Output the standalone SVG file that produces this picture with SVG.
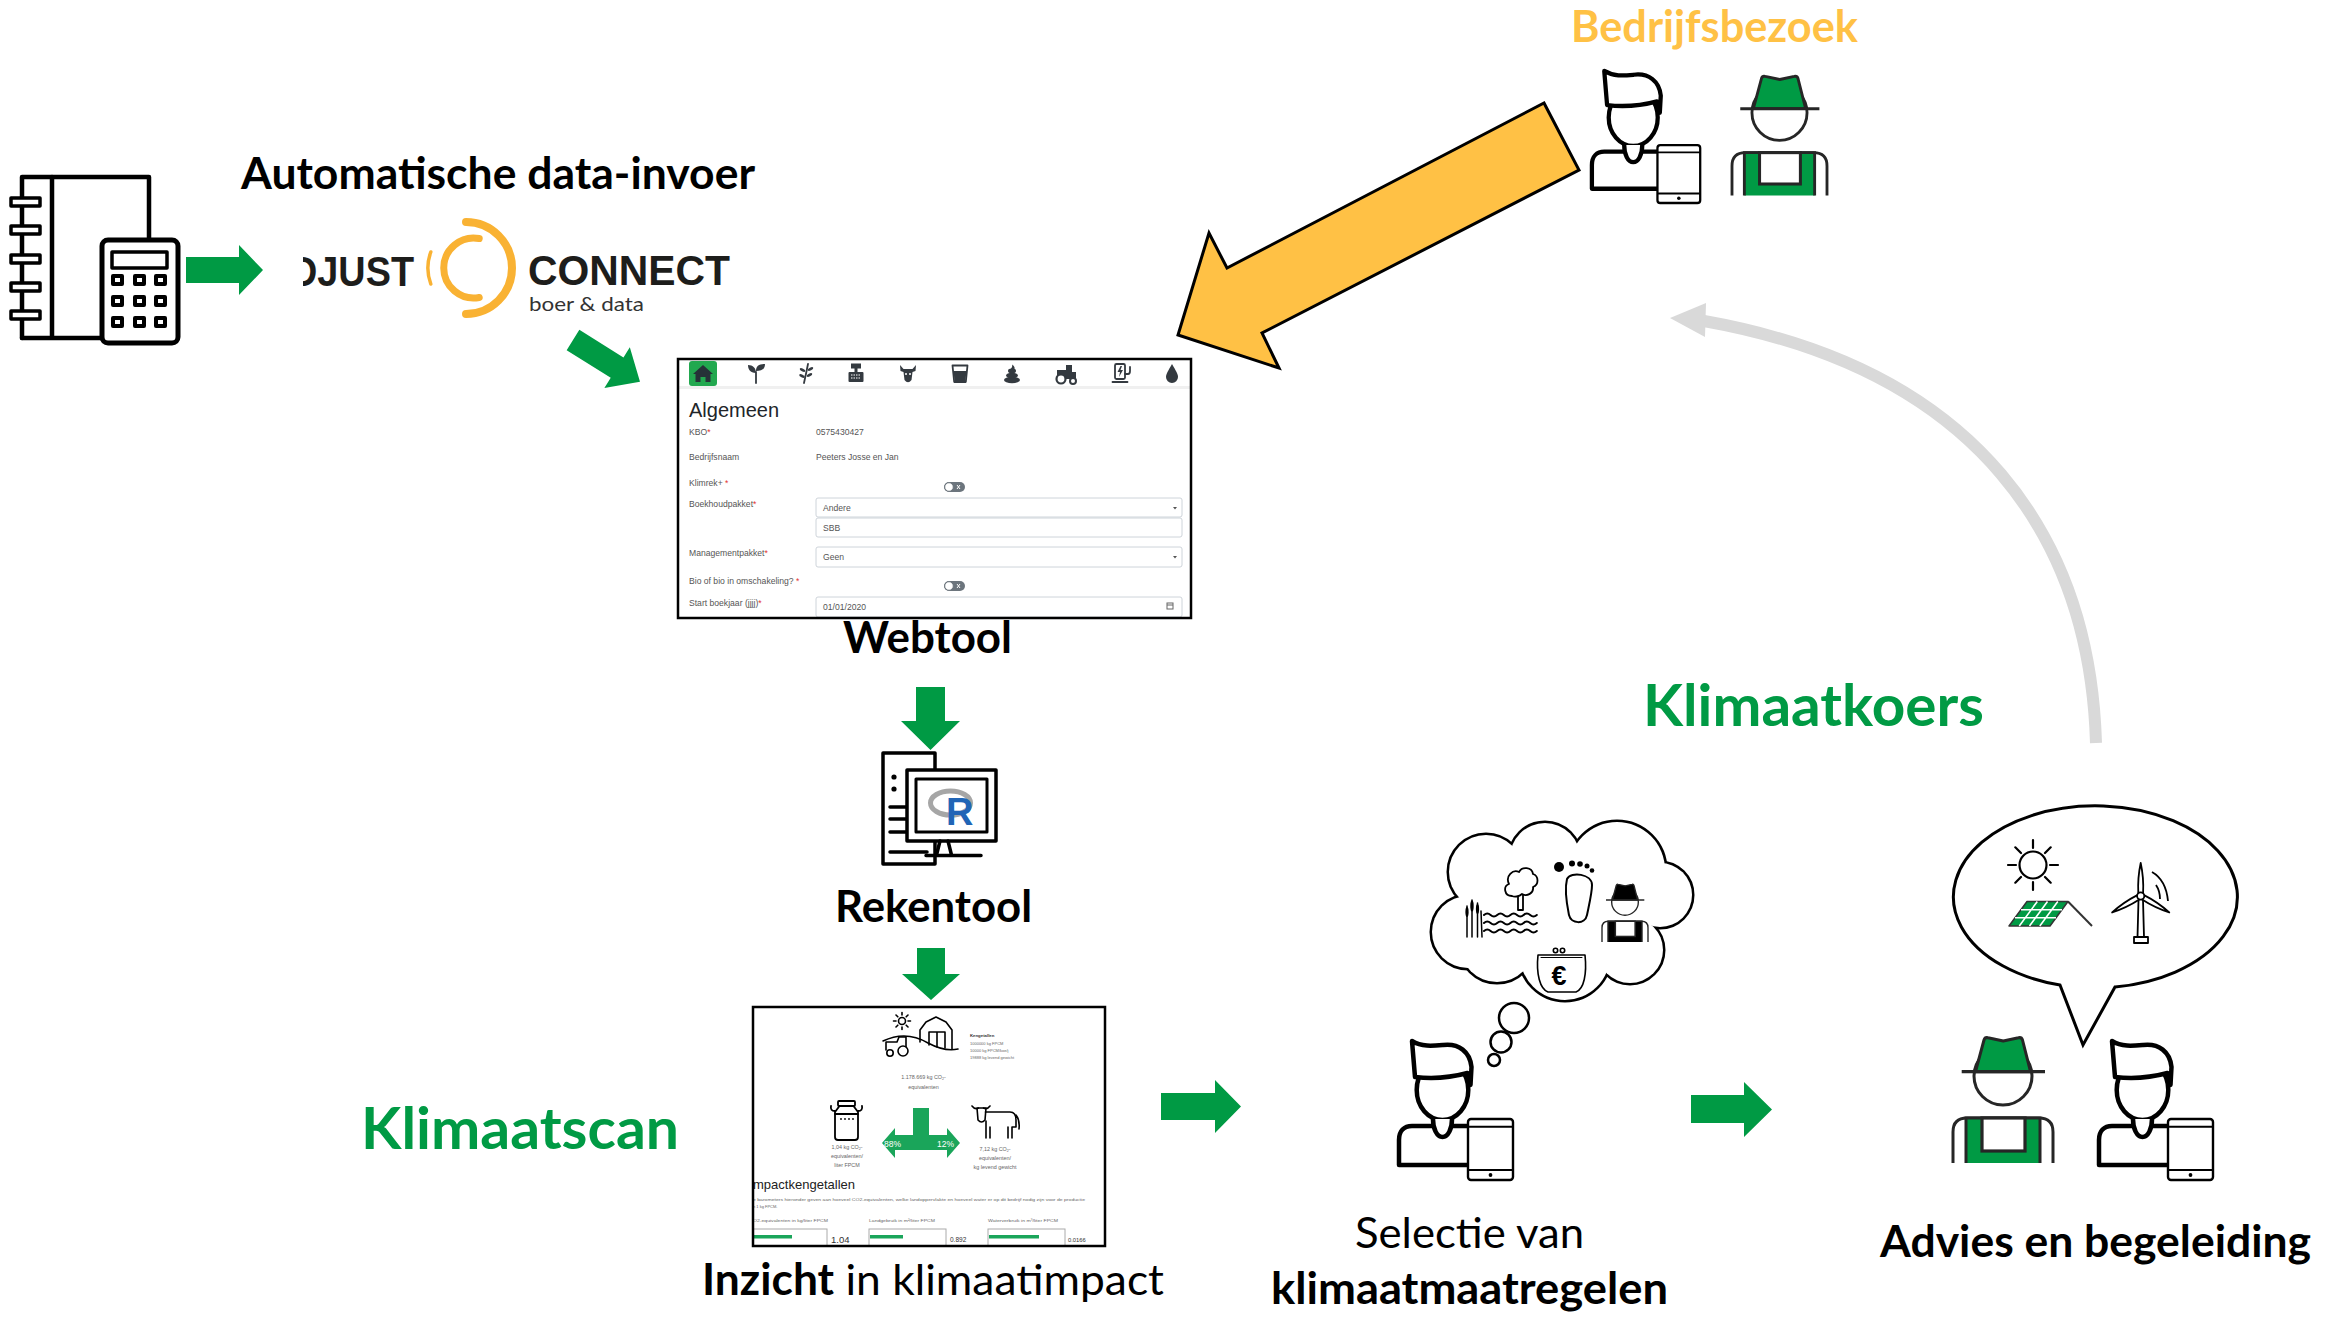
<svg xmlns="http://www.w3.org/2000/svg" width="2331" height="1319" viewBox="0 0 2331 1319">
  <style>
    .t { font-family: Lato, "Liberation Sans", sans-serif; }
    .title { font-size: 43px; fill: #000; }
    .bold { font-weight: 700; }
    .stage { font-size: 57px; font-weight: 700; fill: #009a44; }
    .visit { font-size: 43px; font-weight: 700; fill: #ffc145; }
    .logo { font-family: "Liberation Sans", Arial, sans-serif; font-weight: 700; font-size: 42px; fill: #1d1d1b; }
    .ui { font-family: "Liberation Sans", Arial, sans-serif; }
    .lab { font-size: 8.6px; fill: #555; }
    .req { fill: #e3342f; }
    .field { fill: #fff; stroke: #ced4da; stroke-width: 1; }
    .navf { fill: #343a40; }
    .navs { fill: none; stroke: #343a40; stroke-width: 1.8; stroke-linecap: round; stroke-linejoin: round; }
    .garrow { fill: #009a44; }
    .ink { fill: none; stroke: #000; stroke-linecap: round; stroke-linejoin: round; }
    .inkw { fill: #fff; stroke: #000; stroke-linecap: round; stroke-linejoin: round; }
    .tiny { font-size: 4px; fill: #666; }
    .small { font-size: 5.4px; fill: #666; }
    .bar { fill: #1aa55a; }
    .barbox { fill: #fff; stroke: #aaa; stroke-width: 1; }
  </style>

  <defs>
    <!-- advisor with tablet, local box 0..116 x 0..140 -->
    <g id="advisor">
      <ellipse cx="45.5" cy="50" rx="25.8" ry="30" fill="#fff" stroke="#000" stroke-width="4.5"/>
      <path d="M36,79 C36,89 40,97 45.5,97 C51,97 55,89 55,79" fill="#fff" stroke="#000" stroke-width="4.5"/>
      <path d="M71,125 L2,125 L2,100 C2,91 7,86 15,86 L37,86 M54,86 L71,86" fill="none" stroke="#000" stroke-width="4.5" stroke-linejoin="round"/>
      <path d="M18,37 L15,1 C25,7 35,6 46,5 C62,3 73,12 74.5,27 L73.5,45 L70.5,33 Q45,40 18,37 Z" fill="#fff" stroke="#000" stroke-width="4.5" stroke-linejoin="round"/>
      <rect x="71" y="79" width="45" height="61" rx="3" fill="#fff" stroke="#000" stroke-width="2.4"/>
      <path d="M71,86.7 H116 M71,130 H116" stroke="#000" stroke-width="2"/>
      <circle cx="93.5" cy="135" r="1.9" fill="#000"/>
    </g>
    <!-- farmer with hat and overalls, local box 0..100 x 0..126; hat/overall colour = currentColor -->
    <g id="farmer">
      <circle cx="50" cy="39" r="29" fill="#fff" stroke="#262626" stroke-width="3"/>
      <path d="M22.5,34.7 L31,3 Q32,0 35,0.8 L50.3,4 L65.5,0.8 Q68.5,0 69.5,3 L77.5,34.7 Z" fill="currentColor" stroke="#262626" stroke-width="3" stroke-linejoin="round"/>
      <path d="M8.7,34.7 H92" stroke="#262626" stroke-width="3.2"/>
      <path d="M0,126 V95 Q0,81 14,81 H86 Q100,81 100,95 V126" fill="#fff" stroke="#262626" stroke-width="3"/>
      <path d="M13,126 V81 H87 V126" fill="currentColor" stroke="#262626" stroke-width="3"/>
      <rect x="29" y="81" width="43" height="33" fill="#fff" stroke="#262626" stroke-width="3.2"/>
    </g>
    <!-- thought cloud made of overlapping blobs -->
    <g id="cloud-blobs">
      <circle cx="1468" cy="932" r="36"/>
      <circle cx="1486" cy="872" r="37"/>
      <circle cx="1545" cy="858" r="35"/>
      <circle cx="1617" cy="870" r="48"/>
      <circle cx="1660" cy="895" r="32"/>
      <circle cx="1630" cy="950" r="33"/>
      <circle cx="1565" cy="955" r="45"/>
      <circle cx="1497" cy="945" r="37"/>
      <ellipse cx="1560" cy="905" rx="90" ry="50"/>
    </g>
    <path id="blade" d="M-2.4,-3 Q-3.2,-18 0,-33 Q3.2,-18 2.4,-3 Z"/>
    <clipPath id="clip-web"><rect x="678" y="359" width="513" height="259"/></clipPath>
    <clipPath id="clip-scan"><rect x="753" y="1007" width="352" height="239"/></clipPath>
    <!-- hides the stem of the logo's leading D, keeping only its bowl -->
    <clipPath id="clip-d"><rect x="303" y="230" width="130" height="70"/></clipPath>
  </defs>

  <rect width="2331" height="1319" fill="#fff"/>

  <!-- accounting binder with calculator -->
  <g id="node-boekhouding" class="ink" stroke-width="4.5" stroke-linecap="square" stroke-linejoin="miter">
    <path d="M22,338 V177 H149 V240"/>
    <path d="M52,177 V338 M22,338 H102"/>
    <g fill="#fff" stroke-width="3.5">
      <rect x="11" y="198" width="29" height="8"/>
      <rect x="11" y="226" width="29" height="8"/>
      <rect x="11" y="255" width="29" height="8"/>
      <rect x="11" y="283" width="29" height="8"/>
      <rect x="11" y="311" width="29" height="8"/>
    </g>
    <rect x="102" y="240" width="76" height="103" rx="6" fill="#fff" stroke-width="5"/>
    <rect x="112" y="252" width="55" height="16" stroke-width="3.5"/>
    <g fill="#fff" stroke-width="4">
      <rect x="113" y="276" width="9" height="8"/>
      <rect x="135" y="276" width="9" height="8"/>
      <rect x="156" y="276" width="9" height="8"/>
      <rect x="113" y="297" width="9" height="8"/>
      <rect x="135" y="297" width="9" height="8"/>
      <rect x="156" y="297" width="9" height="8"/>
      <rect x="113" y="318" width="9" height="8"/>
      <rect x="135" y="318" width="9" height="8"/>
      <rect x="156" y="318" width="9" height="8"/>
    </g>
  </g>

  <!-- automatic data import: DjustConnect -->
  <g id="node-djustconnect">
    <text class="t title bold" x="241" y="189" textLength="514" lengthAdjust="spacingAndGlyphs">Automatische data-invoer</text>
    <text class="logo" x="290" y="286" textLength="124" lengthAdjust="spacingAndGlyphs" clip-path="url(#clip-d)">DJUST</text>
    <g fill="none" stroke="#f9b233" stroke-linecap="round">
      <path d="M466,222 A46,46 0 1 1 466,314" stroke-width="8"/>
      <path d="M479.2,238.5 A30,30 0 1 0 479.2,297.5" stroke-width="7"/>
      <path d="M430.8,284 A46,46 0 0 1 430.8,252" stroke-width="3.5"/>
    </g>
    <text class="logo" x="528" y="285" textLength="202" lengthAdjust="spacingAndGlyphs">CONNECT</text>
    <text class="t" x="529" y="311" font-size="20" fill="#333" textLength="115" lengthAdjust="spacingAndGlyphs">boer &amp; data</text>
  </g>

  <!-- web tool form screenshot -->
  <g id="node-webtool">
    <rect x="678" y="359" width="513" height="259" fill="#fff"/>
    <g clip-path="url(#clip-web)">
      <rect x="679" y="386" width="511" height="3" fill="#f0f0f0"/>
      <!-- navigation icons -->
      <rect x="689" y="361" width="28" height="25" rx="3" fill="#22a84f"/>
      <path d="M693,374 L703,365 L713,374 L710.5,374 L710.5,382 L705.5,382 L705.5,377 L700.5,377 L700.5,382 L695.5,382 L695.5,374 Z" fill="#263238"/>
      <path class="navs" d="M756,383 V372"/>
      <path class="navf" d="M756,373 C750,373 748,369 748,365 C753,365 756,368 756,373 Z M756,371 C756,366 759,364 765,364 C765,369 762,371 756,371 Z"/>
      <path class="navs" stroke-width="1.3" d="M804,383 Q806,374 808,364"/>
      <g class="navf">
        <ellipse cx="802.5" cy="370" rx="3" ry="1.4" transform="rotate(25 802.5 370)"/>
        <ellipse cx="810.5" cy="369" rx="3" ry="1.4" transform="rotate(-25 810.5 369)"/>
        <ellipse cx="802" cy="376" rx="3" ry="1.4" transform="rotate(25 802 376)"/>
        <ellipse cx="809.5" cy="375" rx="3" ry="1.4" transform="rotate(-25 809.5 375)"/>
      </g>
      <g class="navf">
        <rect x="851" y="363.5" width="10" height="5"/>
        <rect x="854.5" y="368" width="3" height="4"/>
        <rect x="848.5" y="372" width="15" height="10" rx="1"/>
      </g>
      <path d="M851,375 H861 M851,378 H861" stroke="#fff" stroke-width="1" stroke-dasharray="1.5 1"/>
      <path class="navf" d="M900,365 L903.5,369 L912.5,369 L916,365 L915.5,371 L912.5,372 L911.5,380 Q908,384.5 904.5,380 L903.5,372 L900.5,371 Z"/>
      <circle cx="906" cy="374" r="1" fill="#fff"/><circle cx="910" cy="374" r="1" fill="#fff"/>
      <path class="navs" d="M952.5,365.5 H967.5 L965.8,382 H954.2 Z"/>
      <path class="navf" d="M953.5,371 H966.5 L965.4,381 H954.6 Z"/>
      <g class="navf">
        <ellipse cx="1012" cy="380" rx="8" ry="3.3"/>
        <ellipse cx="1012" cy="375.5" rx="6" ry="2.8"/>
        <ellipse cx="1012" cy="371" rx="4" ry="2.4"/>
        <path d="M1010,369.5 Q1013,367 1012,364.5 Q1016,367 1014,370 Z"/>
      </g>
      <path class="navf" d="M1057,379 V370 H1066 V365 H1072 V372 H1076 V379 Z"/>
      <circle cx="1061" cy="379" r="4.5" fill="#fff" stroke="#343a40" stroke-width="2.2"/>
      <circle cx="1073" cy="381" r="3" fill="#fff" stroke="#343a40" stroke-width="2"/>
      <rect x="1115" y="364" width="10" height="15" rx="1.5" class="navs"/>
      <path class="navs" d="M1112.5,382 H1127.5 M1125,374 H1128 Q1130,374 1130,371 V367"/>
      <path class="navf" d="M1120.5,366 L1117.5,372 H1120 L1119,377 L1123,370 H1120.5 L1122,366 Z"/>
      <path class="navf" d="M1172,364 C1168,371 1166,374 1166,377 A6,6 0 0 0 1178,377 C1178,374 1176,371 1172,364 Z"/>
      <!-- form -->
      <text class="ui" x="689" y="417" font-size="20" fill="#212529">Algemeen</text>
      <g class="ui lab">
        <text x="689" y="435">KBO<tspan class="req">*</tspan></text>
        <text x="816" y="435">0575430427</text>
        <text x="689" y="460">Bedrijfsnaam</text>
        <text x="816" y="460">Peeters Josse en Jan</text>
        <text x="689" y="486">Klimrek+ <tspan class="req">*</tspan></text>
        <text x="689" y="507">Boekhoudpakket<tspan class="req">*</tspan></text>
        <text x="689" y="556">Managementpakket<tspan class="req">*</tspan></text>
        <text x="689" y="584">Bio of bio in omschakeling? <tspan class="req">*</tspan></text>
        <text x="689" y="606">Start boekjaar (jjjj)<tspan class="req">*</tspan></text>
      </g>
      <rect class="field" x="816" y="498" width="366" height="19" rx="2"/>
      <rect class="field" x="816" y="518" width="366" height="19" rx="2"/>
      <rect class="field" x="816" y="547" width="366" height="20" rx="2"/>
      <rect class="field" x="816" y="597" width="366" height="20" rx="2"/>
      <g class="ui lab" fill="#777">
        <text x="823" y="511">Andere</text>
        <text x="823" y="531">SBB</text>
        <text x="823" y="560">Geen</text>
        <text x="823" y="610">01/01/2020</text>
      </g>
      <path d="M1173,507 H1177 L1175,509.5 Z M1173,556 H1177 L1175,558.5 Z" fill="#555"/>
      <rect x="1167" y="603" width="6" height="6" fill="none" stroke="#666" stroke-width="1"/>
      <path d="M1167,605 H1173" stroke="#666" stroke-width="1"/>
      <!-- toggles -->
      <g>
        <rect x="944" y="482" width="21" height="10" rx="5" fill="#6c757d"/>
        <circle cx="949" cy="487" r="4.3" fill="#fff" stroke="#6c757d"/>
        <path d="M957,485 L960,489 M960,485 L957,489" stroke="#fff" stroke-width="1"/>
        <rect x="944" y="581" width="21" height="10" rx="5" fill="#6c757d"/>
        <circle cx="949" cy="586" r="4.3" fill="#fff" stroke="#6c757d"/>
        <path d="M957,584 L960,588 M960,584 L957,588" stroke="#fff" stroke-width="1"/>
      </g>
    </g>
    <rect x="678" y="359" width="513" height="259" fill="none" stroke="#000" stroke-width="2.5"/>
    <text class="t title bold" x="843" y="653" textLength="169" lengthAdjust="spacingAndGlyphs">Webtool</text>
  </g>

  <!-- calculation tool (R) -->
  <g id="node-rekentool">
    <g class="ink" stroke-width="3.5" stroke-linecap="butt" stroke-linejoin="miter">
      <rect x="883" y="753" width="52" height="111" fill="#fff"/>
      <circle cx="894" cy="777" r="2.6" fill="#000" stroke="none"/>
      <circle cx="894" cy="789" r="2.6" fill="#000" stroke="none"/>
      <path d="M890,807 H907 M890,819 H907 M890,832 H907 M890,852 H927"/>
      <rect x="907" y="770" width="89" height="71" fill="#fff"/>
      <rect x="916" y="779" width="71" height="53" stroke-width="3"/>
      <path d="M940,841 L936.5,855 M948,841 L951.5,855 M926,855.5 H981"/>
    </g>
    <ellipse cx="950.5" cy="803" rx="20" ry="12" fill="none" stroke="#a6a6a6" stroke-width="5"/>
    <text x="946" y="825" font-family="'Liberation Sans', Arial, sans-serif" font-weight="700" font-size="38" fill="#2165b6">R</text>
    <text class="t title bold" x="835" y="922" textLength="197" lengthAdjust="spacingAndGlyphs">Rekentool</text>
  </g>

  <!-- climate scan report screenshot -->
  <g id="node-klimaatscan">
    <text class="t stage" x="361" y="1149" textLength="318" lengthAdjust="spacingAndGlyphs">Klimaatscan</text>
    <rect x="753" y="1007" width="352" height="239" fill="#fff"/>
    <g clip-path="url(#clip-scan)">
      <!-- farm -->
      <g class="ink" stroke-width="1.6">
        <circle cx="902" cy="1021" r="3.5"/>
        <path d="M902,1015 V1012.5 M902,1027 V1029.5 M896,1021 H893.5 M908,1021 H910.5 M897.8,1016.8 L896,1015 M906.2,1016.8 L908,1015 M897.8,1025.2 L896,1027 M906.2,1025.2 L908,1027"/>
        <path d="M920,1042 V1030 L926,1022 L936,1017 L946,1022 L952,1030 V1049"/>
        <path d="M929,1045 V1032 H945 V1048 M937,1032 V1047"/>
        <path d="M883,1041 Q906,1030 928,1043 Q945,1052 958,1049"/>
        <path d="M886,1050 V1042 H897 L899,1037 H906 V1049"/>
        <circle cx="903" cy="1051" r="5" fill="#fff"/>
        <circle cx="890" cy="1053" r="3.2" fill="#fff"/>
      </g>
      <g class="ui">
        <text x="970" y="1037" font-size="4.3" font-weight="700" fill="#333">Kengetallen</text>
        <text class="tiny" x="970" y="1044.5">1000000 kg FPCM</text>
        <text class="tiny" x="970" y="1051.5">10000 kg FPCM/koe/j</text>
        <text class="tiny" x="970" y="1059">19888 kg levend gewicht</text>
        <text class="small" x="923.5" y="1079" text-anchor="middle">1.178.669 kg CO<tspan font-size="3.6" dy="1.2">2</tspan><tspan dy="-1.2">-</tspan></text>
        <text class="small" x="923.5" y="1089" text-anchor="middle">equivalenten</text>
      </g>
      <!-- milk can -->
      <g class="ink" stroke-width="1.8">
        <rect x="838" y="1101" width="17" height="5" rx="1"/>
        <path d="M839.5,1106 L835,1112 V1137 Q835,1140 838,1140 H855 Q858,1140 858,1137 V1112 L853.5,1106"/>
        <path d="M835,1111 Q830,1111 831,1106 M858,1111 Q863,1111 862,1106 M835,1114 H858"/>
      </g>
      <g fill="#000"><circle cx="841" cy="1119" r="0.9"/><circle cx="845" cy="1119" r="0.9"/><circle cx="849" cy="1119" r="0.9"/><circle cx="853" cy="1119" r="0.9"/></g>
      <!-- cow -->
      <g class="ink" stroke-width="1.6">
        <path d="M972,1106 Q975,1110 978.5,1108 M990,1106 Q987,1110 983.5,1108"/>
        <path d="M977,1108 H986 L985,1120 Q981.5,1124 978,1120 Z"/>
        <path d="M985.5,1112 H1010 Q1016,1112 1016,1120 V1127 H1012 V1138 M986,1121 V1138 M990,1127 V1138 M1008,1127 V1138 M1016,1115 Q1020,1120 1019,1129"/>
      </g>
      <!-- share arrow -->
      <path d="M913,1108 H929 V1135 H947 V1128 L960,1143 L947,1158 V1150 H895 V1158 L882,1143 L895,1128 V1135 H913 Z" fill="#1aa55a"/>
      <g class="ui" font-size="8.5" fill="#fff">
        <text x="884" y="1147">88%</text>
        <text x="937" y="1147">12%</text>
      </g>
      <g class="ui small" text-anchor="middle">
        <text x="847" y="1149">1,04 kg CO<tspan font-size="3.6" dy="1.2">2</tspan><tspan dy="-1.2">-</tspan></text>
        <text x="847" y="1158">equivalenten/</text>
        <text x="847" y="1167">liter FPCM</text>
        <text x="995" y="1151">7,12 kg CO<tspan font-size="3.6" dy="1.2">2</tspan><tspan dy="-1.2">-</tspan></text>
        <text x="995" y="1160">equivalenten/</text>
        <text x="995" y="1169">kg levend gewicht</text>
      </g>
      <text class="ui" x="753" y="1189" font-size="13" fill="#222" textLength="102" lengthAdjust="spacingAndGlyphs">mpactkengetallen</text>
      <text class="ui tiny" x="753" y="1200.5" textLength="332" lengthAdjust="spacingAndGlyphs">e barometers hieronder geven aan hoeveel CO2-equivalenten, welke landoppervlakte en hoeveel water er op dit bedrijf nodig zijn voor de productie</text>
      <text class="ui tiny" x="753" y="1207.5">n 1 kg FPCM.</text>
      <text class="ui tiny" x="753" y="1221.5" textLength="75" lengthAdjust="spacingAndGlyphs">O2-equivalenten in kg/liter FPCM</text>
      <text class="ui tiny" x="869" y="1221.5" textLength="66" lengthAdjust="spacingAndGlyphs">Landgebruik in m²/liter FPCM</text>
      <text class="ui tiny" x="988" y="1221.5" textLength="70" lengthAdjust="spacingAndGlyphs">Waterverbruik in m³/liter FPCM</text>
      <rect class="barbox" x="749" y="1229" width="78" height="20"/>
      <rect class="bar" x="753" y="1235" width="39" height="3.5"/>
      <rect class="barbox" x="869" y="1229" width="77" height="20"/>
      <rect class="bar" x="870" y="1235" width="33" height="3.5"/>
      <rect class="barbox" x="988" y="1229" width="77" height="20"/>
      <rect class="bar" x="989" y="1235" width="50" height="3.5"/>
      <g class="ui" fill="#333">
        <text x="831" y="1243" font-size="9.5">1.04</text>
        <text x="950" y="1242" font-size="6.5">0.892</text>
        <text x="1068" y="1242" font-size="5.8">0.0166</text>
      </g>
    </g>
    <rect x="753" y="1007" width="352" height="239" fill="none" stroke="#000" stroke-width="2.5"/>
    <text class="t title" x="702" y="1295" textLength="462" lengthAdjust="spacingAndGlyphs"><tspan font-weight="700">Inzicht</tspan> in klimaatimpact</text>
  </g>

  <!-- choosing climate measures -->
  <g id="node-selectie">
    <use href="#cloud-blobs" fill="#fff" stroke="#000" stroke-width="5"/>
    <use href="#cloud-blobs" fill="#fff" stroke="none"/>
    <g class="inkw" stroke-width="2.5">
      <circle cx="1514" cy="1018" r="15"/>
      <circle cx="1501" cy="1042" r="10.5"/>
      <circle cx="1494" cy="1060" r="6"/>
    </g>
    <!-- reeds and water -->
    <g class="ink" stroke-width="1.5">
      <path d="M1467,937 V906 M1472,937 V900 M1477.5,937 V903 M1482,937 L1481,911"/>
      <path d="M1484,915 q3.3,-3 6.6,0 t6.6,0 t6.6,0 t6.6,0 t6.6,0 t6.6,0 t6.6,0 t6.6,0 M1484,923 q3.3,-3 6.6,0 t6.6,0 t6.6,0 t6.6,0 t6.6,0 t6.6,0 t6.6,0 t6.6,0 M1484,931 q3.3,-3 6.6,0 t6.6,0 t6.6,0 t6.6,0 t6.6,0 t6.6,0 t6.6,0 t6.6,0" stroke-width="2"/>
    </g>
    <g fill="#000">
      <ellipse cx="1467" cy="912" rx="1.6" ry="5"/>
      <ellipse cx="1472" cy="906" rx="1.7" ry="5.5"/>
      <ellipse cx="1477.5" cy="909" rx="1.6" ry="5"/>
    </g>
    <!-- tree -->
    <g class="inkw" stroke-width="1.8">
      <rect x="1518" y="893" width="5" height="17"/>
      <path d="M1512,896 c-8,0 -9,-10 -3,-12 c-4,-8 4,-15 10,-12 c3,-6 13,-5 14,2 c6,2 6,11 0,13 c1,6 -6,10 -11,7 c-3,3 -8,3 -10,2 z"/>
    </g>
    <!-- footprint -->
    <g fill="#000">
      <circle cx="1559" cy="867" r="5"/>
      <circle cx="1572" cy="863.5" r="3"/>
      <circle cx="1580" cy="864" r="2.8"/>
      <circle cx="1587" cy="866" r="2.5"/>
      <circle cx="1592" cy="870.5" r="2.3"/>
    </g>
    <path class="inkw" stroke-width="2" d="M1567,879 C1564,891 1567,905 1569,915 C1571,924 1585,925 1587,915 C1589,905 1592,893 1592,885 C1592,874 1571,871 1567,879 Z"/>
    <!-- farmer -->
    <use href="#farmer" color="#000" transform="translate(1602,884) scale(0.46)"/>
    <!-- purse -->
    <g class="inkw" stroke-width="1.6">
      <circle cx="1555.5" cy="950.5" r="2.2"/>
      <circle cx="1562.5" cy="950.5" r="2.2"/>
      <path d="M1538,955 H1585 C1587,974 1584,989 1576,992 H1548 C1540,989 1536,974 1538,955 Z"/>
      <path d="M1541,957.5 H1582" stroke-width="1"/>
    </g>
    <text x="1559" y="985" text-anchor="middle" font-family="'Liberation Sans', Arial, sans-serif" font-weight="700" font-size="27" fill="#000">€</text>
    <use href="#advisor" transform="translate(1397,1040)"/>
    <text class="t title" x="1355" y="1248" textLength="229" lengthAdjust="spacingAndGlyphs">Selectie van</text>
    <text class="t title bold" x="1271" y="1304" textLength="397" lengthAdjust="spacingAndGlyphs">klimaatmaatregelen</text>
  </g>

  <!-- advice and coaching -->
  <g id="node-advies">
    <path d="M2060,985 L2083,1045 L2115,987 A142,91 0 1 0 2060,985 Z" fill="#fff" stroke="#000" stroke-width="3" stroke-linejoin="miter"/>
    <g class="ink" stroke-width="2.2">
      <circle cx="2033" cy="865" r="13.5"/>
      <path d="M2050,865 H2058 M2016,865 H2008 M2033,882 V890 M2033,848 V840 M2045,877 L2050.7,882.7 M2021,877 L2015.3,882.7 M2045,853 L2050.7,847.3 M2021,853 L2015.3,847.3"/>
    </g>
    <polygon points="2009,926 2027,901.5 2068,901.5 2050,926" fill="#009a44" stroke="#333" stroke-width="1.5" stroke-linejoin="round"/>
    <path d="M2019.3,926 L2037.3,901.5 M2029.5,926 L2047.5,901.5 M2039.8,926 L2057.8,901.5 M2015,917.8 H2056 M2021,909.7 H2062" stroke="#fff" stroke-width="1.6"/>
    <path d="M2068,901.5 L2092,926" stroke="#333" stroke-width="2" fill="none"/>
    <g fill="#fff" stroke="#000" stroke-width="1.8" stroke-linejoin="round">
      <path d="M2138.5,900 L2137.5,937 H2144 L2143,900"/>
      <rect x="2134" y="937" width="14" height="6"/>
      <use href="#blade" transform="translate(2140.7,896)"/>
      <use href="#blade" transform="translate(2140.7,896) rotate(120)"/>
      <use href="#blade" transform="translate(2140.7,896) rotate(240)"/>
      <circle cx="2140.7" cy="896" r="3.6"/>
      <path d="M2152,872 Q2166,880 2168,901 M2156,885 Q2160,891 2160,899" fill="none"/>
    </g>
    <use href="#farmer" color="#009a44" transform="translate(1953,1037)"/>
    <use href="#advisor" transform="translate(2097,1040)"/>
    <text class="t title bold" x="1880" y="1257" textLength="431" lengthAdjust="spacingAndGlyphs">Advies en begeleiding</text>
  </g>

  <!-- farm visit -->
  <g id="node-bedrijfsbezoek">
    <text class="t visit" x="1571" y="42" textLength="287" lengthAdjust="spacingAndGlyphs">Bedrijfsbezoek</text>
    <use href="#advisor" transform="translate(1590,70) scale(0.95)"/>
    <use href="#farmer" color="#009a44" transform="translate(1732,75.7) scale(0.95)"/>
  </g>

  <!-- climate course cycle label -->
  <g id="node-klimaatkoers">
    <text class="t stage" x="1643" y="726" textLength="341" lengthAdjust="spacingAndGlyphs">Klimaatkoers</text>
  </g>

  <!-- connectors -->
  <g id="connectors">
    <polygon class="garrow" points="186,257 239,257 239,245 263,270 239,295 239,283 186,283"/>
    <polygon class="garrow" points="0,-12 52,-12 52,-24 79,0 52,24 52,12 0,12" transform="translate(573,340) rotate(32)"/>
    <polygon class="garrow" points="916,687 945,687 945,721 960,721 930.5,750 901,721 916,721"/>
    <polygon class="garrow" points="917,948 945,948 945,974 960,974 931,1000 902,974 917,974"/>
    <polygon class="garrow" points="1161,1093 1215,1093 1215,1080 1241,1106.5 1215,1133 1215,1120 1161,1120"/>
    <polygon class="garrow" points="1691,1095 1744,1095 1744,1082 1772,1109.5 1744,1137 1744,1123 1691,1123"/>
    <polygon points="1544,103 1579,170 1262,333 1279,368 1178,335 1209,233 1227,268" fill="#ffc145" stroke="#000" stroke-width="3" stroke-linejoin="miter"/>
    <path d="M2096,743 C2090,540 1980,370 1704,321" fill="none" stroke="#d9d9d9" stroke-width="12"/>
    <polygon points="1670,318 1706,303 1705,337" fill="#d9d9d9"/>
  </g>
</svg>
